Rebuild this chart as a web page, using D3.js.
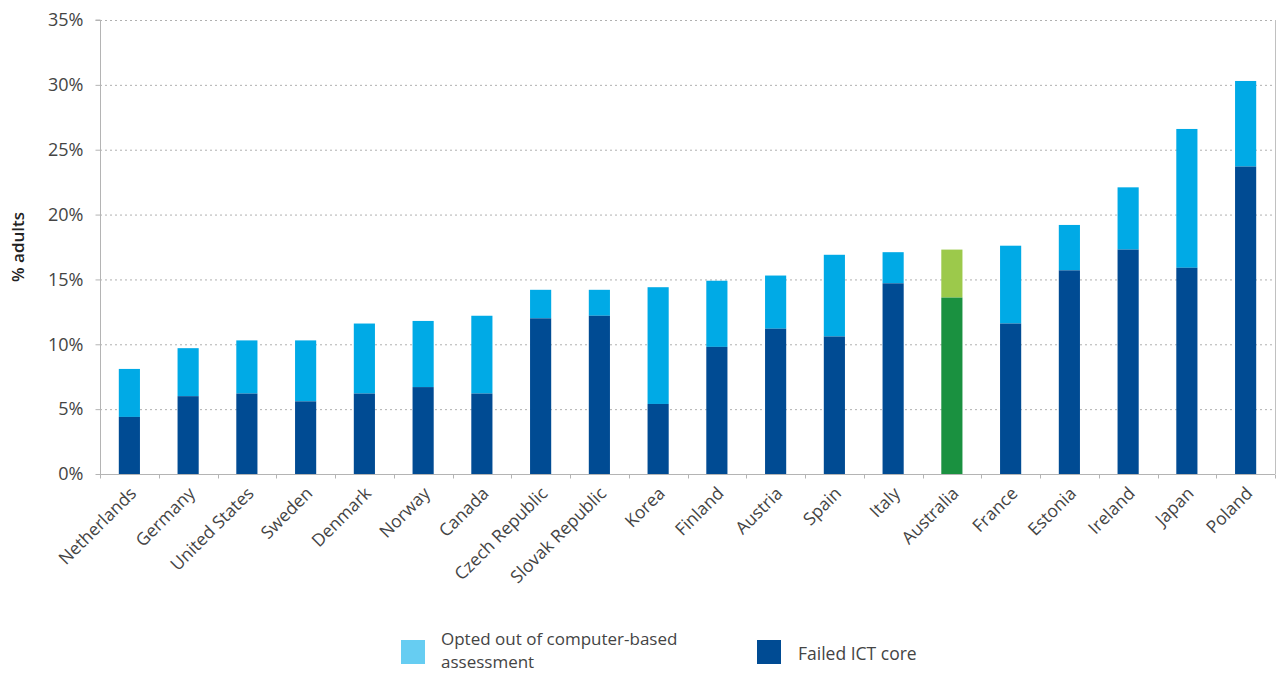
<!DOCTYPE html>
<html><head><meta charset="utf-8">
<script src="https://cdn.jsdelivr.net/npm/d3@7"></script>
<style>
body{margin:0;background:#fff;}
text{font-family:"Open Sans","Noto Sans",sans-serif;}
</style></head>
<body><svg id="c" width="1281" height="673"></svg>
<script>
const categories = ["Netherlands","Germany","United States","Sweden","Denmark","Norway","Canada","Czech Republic","Slovak Republic","Korea","Finland","Austria","Spain","Italy","Australia","France","Estonia","Ireland","Japan","Poland"];
const failedICT = [4.4,6.0,6.2,5.6,6.2,6.7,6.2,12.0,12.2,5.4,9.8,11.2,10.6,14.7,13.6,11.6,15.7,17.3,15.9,23.7];
const totals    = [8.1,9.7,10.3,10.3,11.6,11.8,12.2,14.2,14.2,14.4,14.9,15.3,16.9,17.1,17.3,17.6,19.2,22.1,26.6,30.3];
const yTicks = [0,5,10,15,20,25,30,35];
const highlight = "Australia";
const legendLabels = [["Opted out of computer-based","assessment"],["Failed ICT core"]];

const svg = d3.select("#c");
const m = {l:100, r:1275, t:20, b:474};
const x = d3.scaleBand().domain(categories).range([m.l, m.r]).paddingInner(0.64).paddingOuter(0.32);
const y = d3.scaleLinear().domain([0,35]).range([m.b, m.t]);

// gridlines
svg.append("g").selectAll("line").data(yTicks.filter(d=>d>0)).join("line")
  .attr("x1", m.l).attr("x2", m.r).attr("y1", d=>y(d)+0.5).attr("y2", d=>y(d)+0.5)
  .attr("stroke","#b0b0b0").attr("stroke-dasharray","2,3").attr("stroke-width",1);

// right border
svg.append("line").attr("x1",m.r+0.5).attr("x2",m.r+0.5).attr("y1",m.t).attr("y2",m.b).attr("stroke","#c0c0c0");

// bars
const cols = {dark:"#004b93", light:"#00aae6", gdark:"#1a9140", glight:"#9cc94b"};
const g = svg.append("g");
categories.forEach((c,i)=>{
  const hl = c===highlight;
  g.append("rect").attr("x",x(c)).attr("width",x.bandwidth())
    .attr("y",y(totals[i])).attr("height",y(failedICT[i])-y(totals[i]))
    .attr("fill", hl?cols.glight:cols.light);
  g.append("rect").attr("x",x(c)).attr("width",x.bandwidth())
    .attr("y",y(failedICT[i])).attr("height",y(0)-y(failedICT[i]))
    .attr("fill", hl?cols.gdark:cols.dark);
});

// y axis
const ya = svg.append("g").attr("transform",`translate(${m.l+0.5},0)`)
  .call(d3.axisLeft(y).tickValues(yTicks).tickFormat(d=>d+"%").tickSize(5).tickPadding(12));
ya.select(".domain").attr("stroke","#b4b4b4").attr("d",`M-5,${m.t}H0V${m.b}`);
ya.selectAll(".tick line").attr("stroke","#b4b4b4");
ya.selectAll("text").attr("font-size",18).attr("fill","#444").attr("font-family","Open Sans");

// x axis
const xa = svg.append("g").attr("transform",`translate(0,${m.b+0.5})`);
xa.append("line").attr("x1",m.l).attr("x2",m.r).attr("stroke","#b4b4b4");
d3.range(categories.length+1).forEach(i=>{
  const xx = Math.round(m.l + i*(m.r-m.l)/categories.length)+0.5;
  xa.append("line").attr("x1",xx).attr("x2",xx).attr("y1",0).attr("y2",4).attr("stroke","#b4b4b4");
});
xa.selectAll("text.lab").data(categories).join("text").attr("class","lab")
  .attr("transform",d=>`translate(${x(d)+x.bandwidth()/2+8},${20}) rotate(-45)`)
  .attr("text-anchor","end").attr("font-size",17.5).attr("fill","#444").text(d=>d);

// y title
svg.append("text").attr("transform","translate(24,247) rotate(-90)").attr("text-anchor","middle")
  .attr("font-size",17).attr("font-weight",600).attr("fill","#222").text("% adults");

// legend
const lg = svg.append("g");
lg.append("rect").attr("x",401).attr("y",640).attr("width",24).attr("height",24).attr("fill","#66cdf2");
lg.append("text").attr("x",441).attr("y",645).attr("font-size",17).attr("fill","#444").text(legendLabels[0][0]);
lg.append("text").attr("x",441).attr("y",668).attr("font-size",17).attr("fill","#444").text(legendLabels[0][1]);
lg.append("rect").attr("x",757).attr("y",640).attr("width",24).attr("height",24).attr("fill","#004b93");
lg.append("text").attr("x",798).attr("y",660).attr("font-size",17.5).attr("fill","#444").text(legendLabels[1][0]);
</script></body></html>
